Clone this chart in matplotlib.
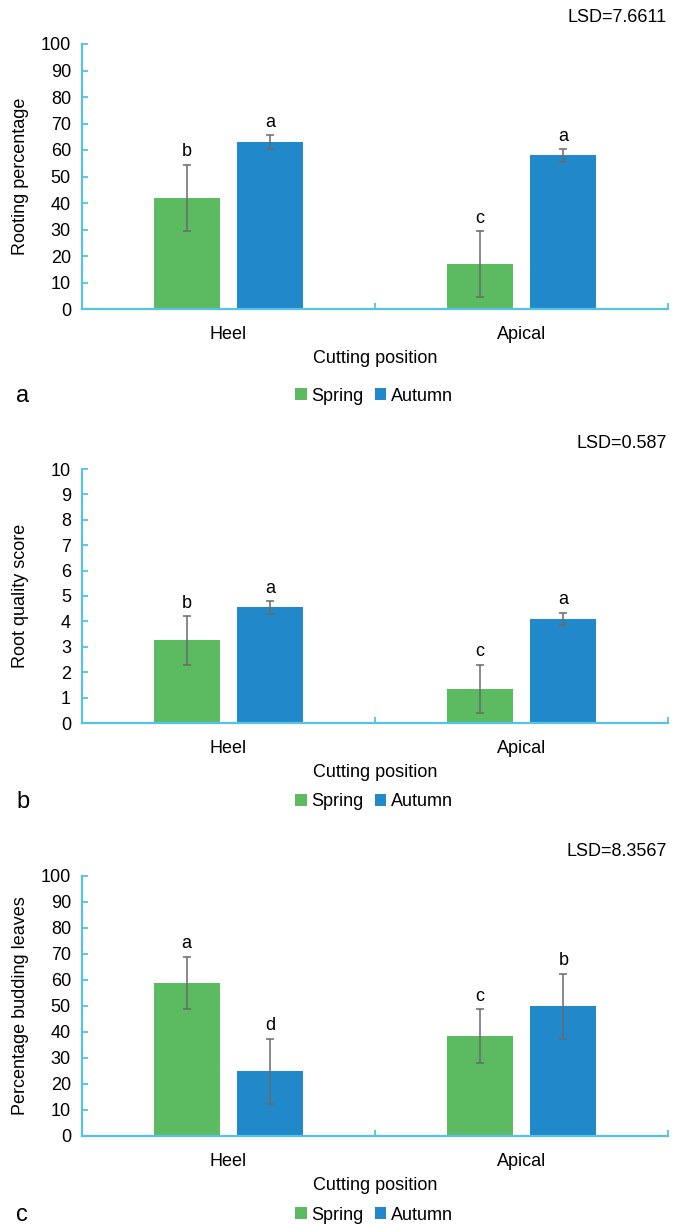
import matplotlib.pyplot as plt
import numpy as np

plt.rcParams['font.family'] = ['Liberation Sans', 'DejaVu Sans']

positions = ['Heel', 'Apical']
seasons = ['Spring', 'Autumn']

rooting_spring = [42, 17]
rooting_autumn = [63, 58]
rooting_spring_err = [12.5, 12.5]
rooting_autumn_err = [2.5, 2.5]
rooting_spring_letters = ['b', 'c']
rooting_autumn_letters = ['a', 'a']

quality_spring = [3.25, 1.35]
quality_autumn = [4.55, 4.1]
quality_spring_err = [0.95, 0.95]
quality_autumn_err = [0.25, 0.25]
quality_spring_letters = ['b', 'c']
quality_autumn_letters = ['a', 'a']

budding_spring = [59, 38.5]
budding_autumn = [25, 50]
budding_spring_err = [10, 10.3]
budding_autumn_err = [12.5, 12.5]
budding_spring_letters = ['a', 'c']
budding_autumn_letters = ['d', 'b']

GREEN = '#5CBB60'
BLUE = '#2188C9'
AXIS = '#55C3E8'
W, H = 681, 1226

fig = plt.figure(figsize=(W / 100, H / 100), dpi=100)


def draw_panel(top_px, bottom_px, spring, autumn, s_err, a_err, s_let, a_let,
               ymax, ystep, ylabel, lsd, letter, lsd_y, letter_y):
    ax = fig.add_axes([82 / W, 1 - bottom_px / H, 586 / W, (bottom_px - top_px) / H])
    x = np.arange(len(positions))
    off, bw = 0.143, 0.225
    ekw = dict(ecolor='#6a6a6a', elinewidth=1.1, capsize=3.2, capthick=1.1)
    b1 = ax.bar(x - off, spring, bw, color=GREEN, yerr=s_err, error_kw=ekw, zorder=2)
    b2 = ax.bar(x + off, autumn, bw, color=BLUE, yerr=a_err, error_kw=ekw, zorder=2)
    for i in range(len(positions)):
        ax.annotate(s_let[i], (x[i] - off, spring[i] + s_err[i]), xytext=(0, 3),
                    textcoords='offset points', ha='center', va='bottom', fontsize=13)
        ax.annotate(a_let[i], (x[i] + off, autumn[i] + a_err[i]), xytext=(0, 3),
                    textcoords='offset points', ha='center', va='bottom', fontsize=13)
    ax.set_xlim(-0.5, 1.5)
    ax.set_ylim(0, ymax)
    ax.set_yticks(np.arange(0, ymax + ystep / 2, ystep))
    ax.set_xticks(x)
    ax.set_xticklabels(positions, fontsize=13)
    ax.set_xticks([-0.5, 0.5, 1.5], minor=True)
    ax.tick_params(axis='x', which='major', length=0, pad=12)
    ax.tick_params(axis='x', which='minor', direction='in', length=4, color=AXIS, width=1.3)
    ax.tick_params(axis='y', direction='in', length=4, color=AXIS, width=1.3, labelsize=13, pad=8)
    for s in ['top', 'right']:
        ax.spines[s].set_visible(False)
    for s in ['left', 'bottom']:
        ax.spines[s].set_color(AXIS)
        ax.spines[s].set_linewidth(1.6)
    ax.set_ylabel(ylabel, fontsize=13)
    ax.yaxis.set_label_coords(-0.09, 0.5)
    ax.set_xlabel('Cutting position', fontsize=13, labelpad=5)
    fig.text(667 / W, 1 - lsd_y / H, lsd, ha='right', va='center', fontsize=13)
    fig.text(16 / W, 1 - letter_y / H, letter, ha='left', va='center', fontsize=17)
    fig.legend(handles=[b1, b2], labels=seasons, loc='center',
               bbox_to_anchor=(374 / W, 1 - letter_y / H),
               ncol=2, frameon=False, fontsize=13, handlelength=0.65, handleheight=0.65,
               handletextpad=0.25, columnspacing=0.6, borderpad=0)
    return ax


draw_panel(44, 309, rooting_spring, rooting_autumn, rooting_spring_err, rooting_autumn_err,
           rooting_spring_letters, rooting_autumn_letters, 100, 10,
           'Rooting percentage', 'LSD=7.6611', 'a', 17, 396)
draw_panel(469, 723, quality_spring, quality_autumn, quality_spring_err, quality_autumn_err,
           quality_spring_letters, quality_autumn_letters, 10, 1,
           'Root quality score', 'LSD=0.587', 'b', 443, 802)
draw_panel(876, 1136, budding_spring, budding_autumn, budding_spring_err, budding_autumn_err,
           budding_spring_letters, budding_autumn_letters, 100, 10,
           'Percentage budding leaves', 'LSD=8.3567', 'c', 852, 1215)

fig.savefig('out.png', dpi=100)
